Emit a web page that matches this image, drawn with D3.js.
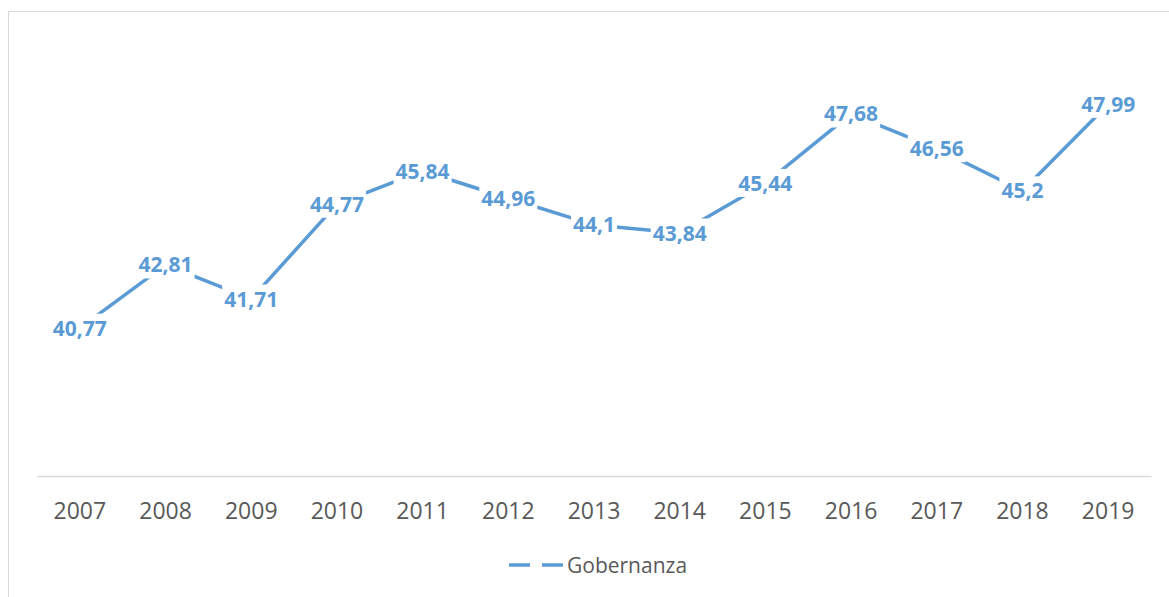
<!DOCTYPE html>
<html lang="es">
  <head>
    <meta charset="utf-8">
    <script src="https://cdn.jsdelivr.net/npm/d3@7"></script>
    <style>
      body { margin: 0; background: #fff; }
      svg { display: block; }
    </style>
  </head>
  <body>
    <svg id="chart"></svg>
  </body>
  <script>

    var years = ['2007','2008','2009','2010','2011','2012','2013','2014','2015','2016','2017','2018','2019'];
    var values = [40.77, 42.81, 41.71, 44.77, 45.84, 44.96, 44.1, 43.84, 45.44, 47.68, 46.56, 45.2, 47.99];
    var seriesName = 'Gobernanza';
    var yDomain = [36, 50];

    var width = 1169;
    var height = 597;
    var blue = '#5b9bd5';

    var svg = d3.select('#chart').attr('width', width).attr('height', height);

    // chart area border (only top and left edges fall inside the picture)
    svg.append('rect')
      .attr('x', 8.5).attr('y', 11.5)
      .attr('width', 1200).attr('height', 700)
      .attr('fill', 'none')
      .attr('stroke', '#d9d9d9');

    var x = d3.scaleBand().domain(years).range([37, 1151]).padding(0);
    var y = d3.scaleLinear().domain(yDomain).range([476, 42]);

    var cx = function(d, i) { return x(years[i]) + x.bandwidth() / 2; };

    // x axis
    var axis = svg.append('g')
      .attr('transform', 'translate(0,476)')
      .call(d3.axisBottom(x).tickSize(0).tickSizeOuter(0).tickPadding(27));
    axis.select('.domain').attr('stroke', '#d9d9d9').attr('stroke-width', 1.5);
    axis.selectAll('text')
      .attr('fill', '#595959')
      .style('font-family', '"Open Sans", sans-serif')
      .style('font-size', '23px');

    // the series line
    var line = d3.line()
      .x(function(d, i) { return cx(d, i); })
      .y(function(d) { return y(d); });

    svg.append('path')
      .datum(values)
      .attr('d', line)
      .attr('fill', 'none')
      .attr('stroke', blue)
      .attr('stroke-width', 3.5)
      .attr('stroke-linejoin', 'round');

    // data labels, centred on the points, with white boxes that cut the line
    var labels = svg.append('g');
    values.forEach(function(v, i) {
      var g = labels.append('g');
      var t = g.append('text')
        .text(String(v).replace('.', ','))
        .attr('x', cx(v, i))
        .attr('y', y(v))
        .attr('dy', '0.36em')
        .attr('text-anchor', 'middle')
        .attr('fill', blue)
        .style('font-family', '"Open Sans", sans-serif')
        .style('font-weight', 'bold')
        .style('font-size', '21px');
      var b = t.node().getBBox();
      g.insert('rect', 'text')
        .attr('x', b.x - 2).attr('y', b.y)
        .attr('width', b.width + 4).attr('height', b.height)
        .attr('fill', '#fff');
    });

    // legend
    var legend = svg.append('g');
    legend.append('line')
      .attr('x1', 509).attr('x2', 563)
      .attr('y1', 565).attr('y2', 565)
      .attr('stroke', blue)
      .attr('stroke-width', 3.5)
      .attr('stroke-dasharray', '21,12');
    legend.append('text')
      .text(seriesName)
      .attr('x', 567)
      .attr('y', 565)
      .attr('dy', '0.36em')
      .attr('fill', '#595959')
      .style('font-family', '"Open Sans", sans-serif')
      .style('font-size', '21px');

  </script>
</html>
